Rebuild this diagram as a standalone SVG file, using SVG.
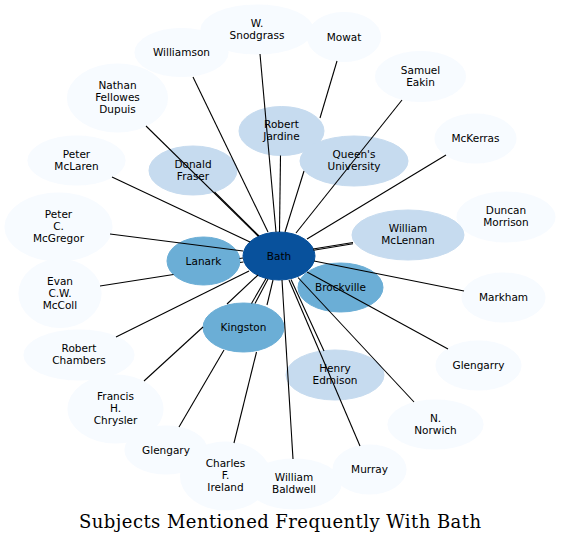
<svg xmlns="http://www.w3.org/2000/svg" width="561" height="545" viewBox="0 0 561 545">
<style>
.n0{fill:#f7fbff;stroke:#f7fbff}
.n1{fill:#c6dbef;stroke:#c6dbef}
.n2{fill:#6baed6;stroke:#6baed6}
.n3{fill:#08519c;stroke:#08519c}
text{font-family:"DejaVu Sans",Verdana,sans-serif;font-size:10.5px;fill:#000;text-anchor:middle}
.e line{stroke:#000;stroke-width:1.1;fill:none}
.title{font-family:"DejaVu Serif","Liberation Serif",serif;font-size:18px}
</style>
<rect width="561" height="545" fill="#fff"/>
<g id="nodes">
<g id="snodgrass"><ellipse class="n0" cx="257" cy="29.5" rx="56" ry="24.5"/><text x="257" y="26.5">W.</text><text x="257" y="38.5">Snodgrass</text></g>
<g id="williamson"><ellipse class="n0" cx="181.5" cy="52.5" rx="46.5" ry="24"/><text x="181.5" y="56">Williamson</text></g>
<g id="mowat"><ellipse class="n0" cx="344" cy="37" rx="36.5" ry="24.5"/><text x="344" y="40.5">Mowat</text></g>
<g id="eakin"><ellipse class="n0" cx="420.5" cy="76.5" rx="45" ry="25"/><text x="420.5" y="73.5">Samuel</text><text x="420.5" y="85.5">Eakin</text></g>
<g id="nathan"><ellipse class="n0" cx="117.5" cy="98" rx="50" ry="34"/><text x="117.5" y="89">Nathan</text><text x="117.5" y="101">Fellowes</text><text x="117.5" y="113">Dupuis</text></g>
<g id="mckerras"><ellipse class="n0" cx="475.5" cy="138.5" rx="40.5" ry="24.5"/><text x="475.5" y="142">McKerras</text></g>
<g id="mclaren"><ellipse class="n0" cx="76.5" cy="160.5" rx="48.5" ry="24.5"/><text x="76.5" y="157.5">Peter</text><text x="76.5" y="169.5">McLaren</text></g>
<g id="morrison"><ellipse class="n0" cx="506" cy="217" rx="49" ry="25"/><text x="506" y="214">Duncan</text><text x="506" y="226">Morrison</text></g>
<g id="mcgregor"><ellipse class="n0" cx="58.5" cy="227" rx="53.5" ry="34"/><text x="58.5" y="218">Peter</text><text x="58.5" y="230">C.</text><text x="58.5" y="242">McGregor</text></g>
<g id="mccoll"><ellipse class="n0" cx="60" cy="293.5" rx="41" ry="34"/><text x="60" y="284.5">Evan</text><text x="60" y="296.5">C.W.</text><text x="60" y="308.5">McColl</text></g>
<g id="markham"><ellipse class="n0" cx="503.5" cy="297.5" rx="41.5" ry="24.5"/><text x="503.5" y="301">Markham</text></g>
<g id="chambers"><ellipse class="n0" cx="79" cy="355" rx="55" ry="25"/><text x="79" y="352">Robert</text><text x="79" y="364">Chambers</text></g>
<g id="glengarry"><ellipse class="n0" cx="478.5" cy="365.5" rx="42.5" ry="24.5"/><text x="478.5" y="369">Glengarry</text></g>
<g id="chrysler"><ellipse class="n0" cx="115.5" cy="409" rx="47.5" ry="34"/><text x="115.5" y="400">Francis</text><text x="115.5" y="412">H.</text><text x="115.5" y="424">Chrysler</text></g>
<g id="norwich"><ellipse class="n0" cx="435.5" cy="424.5" rx="47.5" ry="24.5"/><text x="435.5" y="421.5">N.</text><text x="435.5" y="433.5">Norwich</text></g>
<g id="glengary"><ellipse class="n0" cx="166" cy="450" rx="41" ry="24"/><text x="166" y="453.5">Glengary</text></g>
<g id="ireland"><ellipse class="n0" cx="225.5" cy="476" rx="45" ry="34"/><text x="225.5" y="467">Charles</text><text x="225.5" y="479">F.</text><text x="225.5" y="491">Ireland</text></g>
<g id="baldwell"><ellipse class="n0" cx="294" cy="484" rx="47" ry="25"/><text x="294" y="481">William</text><text x="294" y="493">Baldwell</text></g>
<g id="murray"><ellipse class="n0" cx="369.5" cy="469.5" rx="36.5" ry="24.5"/><text x="369.5" y="473">Murray</text></g>
<g id="donald"><ellipse class="n1" cx="193" cy="170.5" rx="44" ry="24.5"/><text x="193" y="167.5">Donald</text><text x="193" y="179.5">Fraser</text></g>
<g id="jardine"><ellipse class="n1" cx="281.5" cy="131" rx="42.5" ry="24.5"/><text x="281.5" y="128">Robert</text><text x="281.5" y="140">Jardine</text></g>
<g id="queens"><ellipse class="n1" cx="354" cy="161" rx="54" ry="25"/><text x="354" y="158">Queen's</text><text x="354" y="170">University</text></g>
<g id="mclennan"><ellipse class="n1" cx="408" cy="235" rx="56" ry="25"/><text x="408" y="232">William</text><text x="408" y="244">McLennan</text></g>
<g id="edmison"><ellipse class="n1" cx="335" cy="375" rx="49" ry="25"/><text x="335" y="372">Henry</text><text x="335" y="384">Edmison</text></g>
<g id="lanark"><ellipse class="n2" cx="203.5" cy="261" rx="36.5" ry="24"/><text x="203.5" y="264.5">Lanark</text></g>
<g id="brockville"><ellipse class="n2" cx="340.5" cy="287.5" rx="42.5" ry="24.5"/><text x="340.5" y="291">Brockville</text></g>
<g id="kingston"><ellipse class="n2" cx="243.5" cy="327.5" rx="40.5" ry="24.5"/><text x="243.5" y="331">Kingston</text></g>
<g id="bath"><ellipse class="n3" cx="279" cy="256" rx="36" ry="24"/><text x="279" y="259.5">Bath</text></g>
</g>
<g id="connectors" class="e">
<line x1="193" y1="77" x2="268" y2="232"/>
<line x1="260" y1="54" x2="276" y2="232"/>
<line x1="337" y1="61" x2="320" y2="118"/>
<line x1="304" y1="171" x2="285" y2="232"/>
<line x1="280.5" y1="155.5" x2="279.5" y2="232"/>
<line x1="402" y1="100" x2="296" y2="233"/>
<line x1="446" y1="155" x2="307" y2="239"/>
<line x1="353" y1="242.5" x2="313" y2="249"/>
<line x1="353" y1="243.8" x2="313.5" y2="250.3"/>
<line x1="146" y1="126" x2="258" y2="236"/>
<line x1="214.5" y1="192" x2="259" y2="236"/>
<line x1="112" y1="177" x2="250" y2="242"/>
<line x1="110" y1="234" x2="243" y2="251"/>
<line x1="100" y1="286" x2="173.5" y2="274.5"/>
<line x1="240" y1="262.5" x2="243.5" y2="262"/>
<line x1="239.5" y1="258.5" x2="243" y2="258"/>
<line x1="116" y1="337" x2="249" y2="271"/>
<line x1="144" y1="381" x2="203" y2="327"/>
<line x1="227" y1="304" x2="258" y2="275"/>
<line x1="179" y1="427" x2="224" y2="350"/>
<line x1="251.5" y1="303.5" x2="266" y2="278.5"/>
<line x1="255" y1="303.5" x2="268" y2="279"/>
<line x1="234" y1="443" x2="256.5" y2="352"/>
<line x1="267" y1="305" x2="273" y2="280"/>
<line x1="293" y1="459" x2="282" y2="280"/>
<line x1="360" y1="446" x2="289" y2="280"/>
<line x1="324" y1="351" x2="291" y2="279.5"/>
<line x1="414" y1="402" x2="298" y2="277.5"/>
<line x1="448" y1="349" x2="307" y2="272"/>
<line x1="464" y1="291" x2="314" y2="261"/>
</g>
<text class="title" x="280" y="528" textLength="402" lengthAdjust="spacing">Subjects Mentioned Frequently With Bath</text>
</svg>
